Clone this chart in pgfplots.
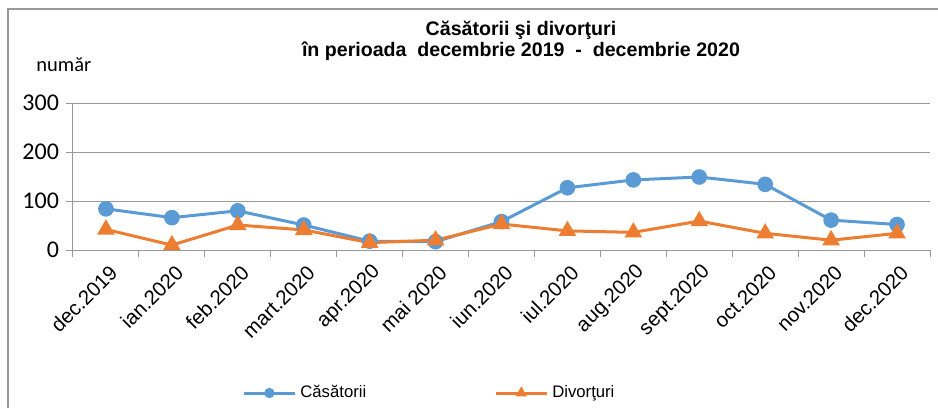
\documentclass[border=0pt]{standalone}
\usepackage{fontspec}
\setmainfont{Liberation Sans}
\newfontfamily\calibri{Carlito}
\usepackage{pgfplots}
\pgfplotsset{compat=1.18}
\definecolor{cblue}{HTML}{5B9BD5}
\definecolor{corange}{HTML}{ED7D31}
\definecolor{gridgray}{HTML}{999999}
\begin{document}
\begin{tikzpicture}
\useasboundingbox (-36.5pt,-79pt) rectangle (432.5pt,125pt);
\draw[gridgray, line width=0.6pt] (-32.5pt,-79pt) -- (-32.5pt,120.5pt) -- (432.5pt,120.5pt);
\node[anchor=base, font=\bfseries\fontsize{9.8}{11}\selectfont] at (224pt,107.5pt) {Căsătorii şi divorţuri};
\node[anchor=base, font=\bfseries\fontsize{9.8}{11}\selectfont] at (224pt,97pt) {în perioada\ \ decembrie 2019\ \ -\ \ decembrie 2020};
\node[anchor=base west, inner sep=0pt, font=\calibri\fontsize{10.25}{12}\selectfont] at (-18.5pt,89.5pt) {număr};
\begin{axis}[
  at={(0pt,0pt)}, anchor=south west,
  scale only axis, width=428.5pt, height=73.5pt,
  xmin=-0.5, xmax=12.5, ymin=0, ymax=300,
  clip=false,
  axis lines*=left,
  axis line style={gridgray, line width=0.5pt},
  ytick={0,100,200,300},
  ymajorgrids, grid style={gridgray, line width=0.5pt},
  xtick={0,...,12},
  xticklabels={dec.2019,ian.2020,feb.2020,mart.2020,apr.2020,mai 2020,iun.2020,iul.2020,aug.2020,sept.2020,oct.2020,nov.2020,dec.2020},
  minor xtick={-0.5,0.5,...,12.5},
  major x tick style={draw=none},
  tick align=outside,
  major tick length=3.5pt, minor tick length=3.5pt,
  tick style={gridgray, line width=0.5pt},
  /pgf/number format/assume math mode=true,
  xticklabel style={font=\fontsize{10.2}{12}\selectfont, rotate=45, anchor=east, inner sep=0pt, yshift=-7pt, xshift=-1.5pt},
  yticklabel style={font=\calibri\fontsize{12}{14}\selectfont},
  legend columns=2,
  legend style={at={(0.1972,-0.9728)}, anchor=west, draw=none, fill=none, inner sep=0pt,
    font=\fontsize{8.35}{10}\selectfont,
    /tikz/every even column/.append style={column sep=62pt}},
  legend image code/.code={
    \draw[#1, mark=none] (0pt,0pt) -- (25.5pt,0pt);
    \draw[#1, mark size=1.8pt] plot coordinates {(12.75pt,0pt)};
  },
]
\addplot[cblue, line width=1.5pt, mark=*, mark size=3.15pt, mark options={solid, fill=cblue, draw=cblue}]
  coordinates {(0,84) (1,66) (2,80) (3,51) (4,18) (5,17) (6,58) (7,127) (8,143) (9,149) (10,134) (11,61) (12,52)};
\addlegendentry{Căsătorii}
\addplot[corange, line width=1.5pt, mark=triangle*, mark size=3.6pt, mark options={solid, fill=corange, draw=corange}]
  coordinates {(0,42) (1,10) (2,51) (3,41) (4,15) (5,20) (6,53) (7,39) (8,36) (9,59) (10,34) (11,20) (12,34)};
\addlegendentry{Divorţuri}
\end{axis}
\end{tikzpicture}
\end{document}
